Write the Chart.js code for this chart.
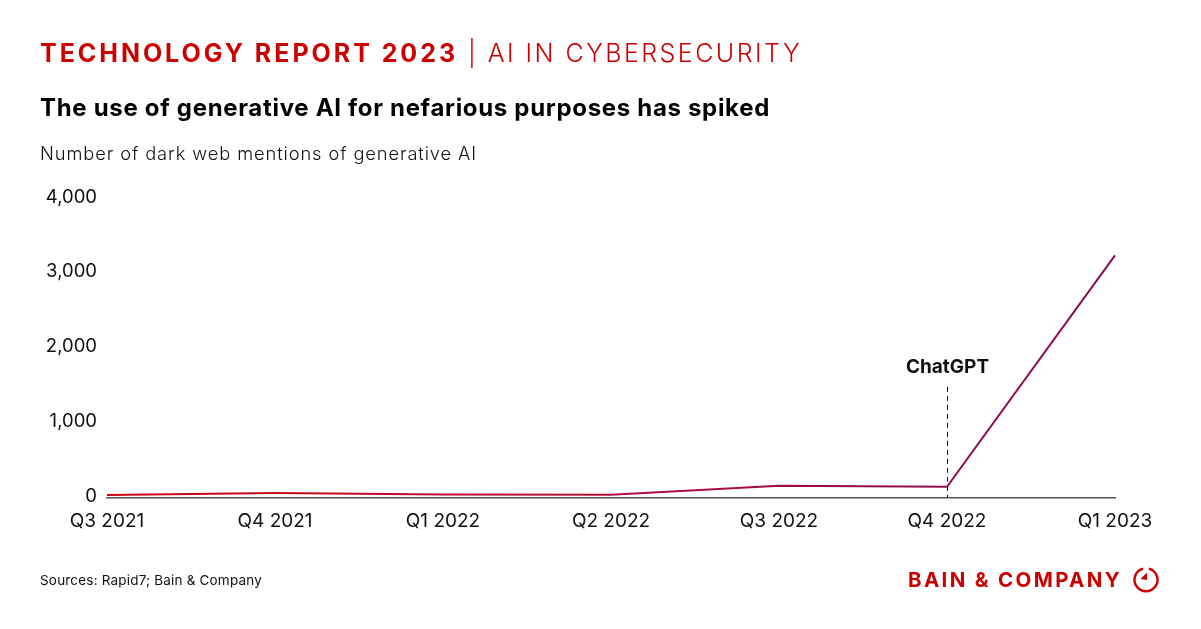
<!DOCTYPE html>
<html>
<head>
<meta charset="utf-8">
<script src="https://cdn.jsdelivr.net/npm/chart.js@4.4.1/dist/chart.umd.min.js"></script>
<style>
  html, body { margin:0; padding:0; background:#fff; }
  #wrap { position:relative; width:1201px; height:629px; overflow:hidden; font-family:Inter, Roboto, sans-serif; }
  #c { position:absolute; left:0; top:0; }
  .t { position:absolute; white-space:nowrap; line-height:1.2; }
  #h1a { font-size:25px; font-weight:700; color:#cc0000; }
  #h1b { font-size:25px; font-weight:300; color:#cc0000; }
  #title { font-size:24px; font-weight:700; color:#000; }
  #sub { font-size:18.3px; font-weight:300; color:#111; }
  #src { font-size:13.5px; font-weight:400; color:#111; }
  #logo { font-size:20.5px; font-weight:700; color:#cc0000; }
  #icon { position:absolute; left:1132px; top:566px; }
</style>
</head>
<body>
<div id="wrap">
  <canvas id="c" width="1201" height="629"></canvas>
  <div class="t" id="h1a">TECHNOLOGY REPORT 2023</div>
  <div class="t" id="h1b">| AI IN CYBERSECURITY</div>
  <div class="t" id="title">The use of generative AI for nefarious purposes has spiked</div>
  <div class="t" id="sub">Number of dark web mentions of generative AI</div>
  <div class="t" id="src">Sources: Rapid7; Bain &amp; Company</div>
  <div class="t" id="logo">BAIN &amp; COMPANY</div>
  <svg id="icon" width="28" height="28" viewBox="0 0 28 28">
    <path d="M 16.8 2.6 A 11.5 11.5 0 1 1 11.2 2.6" fill="none" stroke="#cc0000" stroke-width="2.4"/>
    <path d="M 15 6.5 L 15 14 L 8.5 13 Z" fill="#cc0000"/>
  </svg>
</div>
<script>
const categories = ['Q3 2021', 'Q4 2021', 'Q1 2022', 'Q2 2022', 'Q3 2022', 'Q4 2022', 'Q1 2023'];
const mentions = [13, 40, 20, 15, 138, 124, 3220];
const yTickValues = [0, 1000, 2000, 3000, 4000];
const annotationIndex = 5;
const annotationLabel = 'ChatGPT';
const annotationTopValue = 1460;

// text placement: left, baseline, target width
function place(id, left, baseline, targetWidth) {
  const el = document.getElementById(id);
  el.style.left = left + 'px';
  el.style.top = '0px';
  if (targetWidth) {
    el.style.letterSpacing = '0px';
    const w = el.getBoundingClientRect().width;
    const n = el.textContent.length;
    el.style.letterSpacing = ((targetWidth - w) / n) + 'px';
  }
  const m = document.createElement('span');
  m.style.display = 'inline-block';
  m.style.width = '0px';
  m.style.height = '0px';
  el.appendChild(m);
  const b = m.getBoundingClientRect().top - el.getBoundingClientRect().top;
  el.removeChild(m);
  el.style.top = (baseline - b) + 'px';
}
place('h1a', 40, 62.3, 418);
place('h1b', 468, 62.3, 334);
place('title', 40, 115.7, 730);
place('sub', 40, 160, 437);
place('src', 40, 585, 222);
place('logo', 908, 587, 214);

const annotationPlugin = {
  id: 'chatgpt',
  afterDatasetsDraw(chart) {
    const { ctx, chartArea, scales } = chart;
    const x = Math.round(scales.x.getPixelForValue(annotationIndex)) + 0.5;
    const yTop = scales.y.getPixelForValue(annotationTopValue);
    ctx.save();
    ctx.strokeStyle = '#111';
    ctx.lineWidth = 1;
    ctx.setLineDash([5, 4]);
    ctx.beginPath();
    ctx.moveTo(x, yTop);
    ctx.lineTo(x, chartArea.bottom);
    ctx.stroke();
    ctx.setLineDash([]);
    ctx.fillStyle = '#111';
    ctx.font = '700 19px Inter';
    ctx.textAlign = 'center';
    ctx.textBaseline = 'alphabetic';
    ctx.fillText(annotationLabel, x, yTop - 13.5);
    ctx.restore();
  }
};

const ctx = document.getElementById('c').getContext('2d');
new Chart(ctx, {
  type: 'line',
  data: {
    labels: categories,
    datasets: [{
      data: mentions,
      borderWidth: 2,
      pointRadius: 0,
      tension: 0,
      fill: false,
      borderColor: (c) => {
        const ca = c.chart.chartArea;
        if (!ca) return '#a00a3a';
        const g = c.chart.ctx.createLinearGradient(ca.left, 0, ca.right, 0);
        g.addColorStop(0, '#d00010');
        g.addColorStop(0.45, '#b8103a');
        g.addColorStop(0.75, '#960a4a');
        g.addColorStop(1, '#8a0a58');
        return g;
      }
    }]
  },
  options: {
    responsive: false,
    animation: false,
    events: [],
    layout: { padding: { left: 0, right: 86, top: 197, bottom: 0 } },
    plugins: { legend: { display: false }, tooltip: { enabled: false } },
    scales: {
      x: {
        type: 'category',
        offset: false,
        grid: { display: false, drawTicks: false },
        border: { display: true, color: '#555', width: 1.5 },
        ticks: { color: '#111', font: { family: 'Inter', size: 19 }, padding: 12, maxRotation: 0, autoSkip: false },
        afterFit(s) { s.height = 131; }
      },
      y: {
        min: -27,
        max: 4000,
        grid: { display: false, drawTicks: false },
        border: { display: false },
        afterBuildTicks(s) { s.ticks = yTickValues.map(v => ({ value: v })); },
        ticks: {
          color: '#111',
          font: { family: 'Inter', size: 18.5 },
          padding: 10,
          callback: (v) => v.toLocaleString('en-US')
        },
        afterFit(s) { s.width = 107; }
      }
    }
  },
  plugins: [annotationPlugin]
});
</script>
</body>
</html>
